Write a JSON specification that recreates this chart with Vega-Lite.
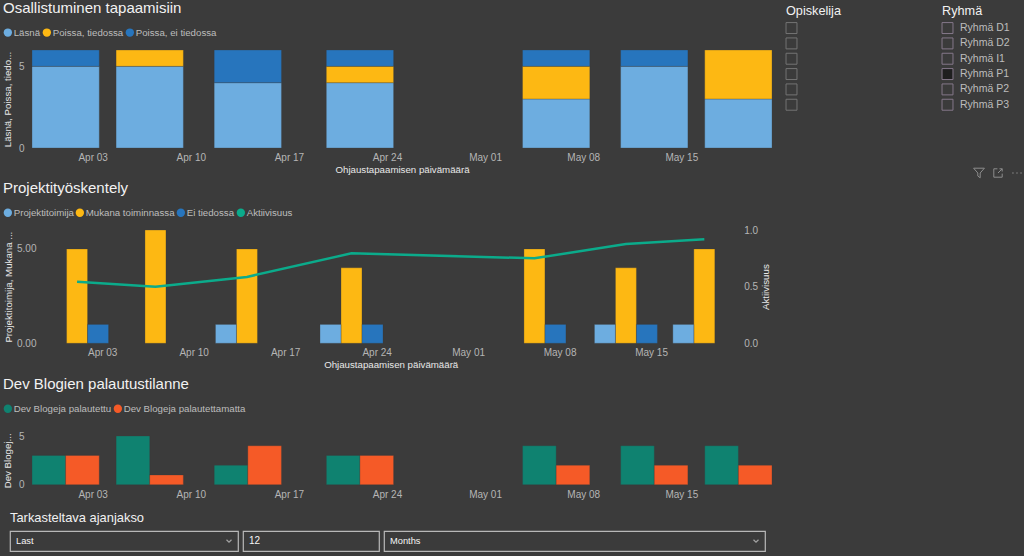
{
"$schema":"https://vega.github.io/schema/vega-lite/v6.json",
"background":"#3b3b3b",
"padding":{"left":2,"top":1,"right":1,"bottom":6},
"config":{"view":{"stroke":null},"font":"Liberation Sans","axis":{"labelFont":"Liberation Sans","titleFont":"Liberation Sans","ticks":false,"domain":false,"grid":false,"labelColor":"#b5b5b5","labelFontSize":10,"titleColor":"#e8e8e8","titleFontSize":9.7,"titleFontWeight":"normal","labelPadding":8},"legend":{"labelFont":"Liberation Sans"},"title":{"font":"Liberation Sans","fontWeight":"normal","color":"#f2f2f2","fontSize":15,"anchor":"start","frame":"group"}},
"datasets":{
"osallistuminen":[
{"pvm":"2022-04-01T00:00:00Z","sarja":"Läsnä","arvo":5,"jarj":1},{"pvm":"2022-04-01T00:00:00Z","sarja":"Poissa, ei tiedossa","arvo":1,"jarj":3},
{"pvm":"2022-04-07T00:00:00Z","sarja":"Läsnä","arvo":5,"jarj":1},{"pvm":"2022-04-07T00:00:00Z","sarja":"Poissa, tiedossa","arvo":1,"jarj":2},
{"pvm":"2022-04-14T00:00:00Z","sarja":"Läsnä","arvo":4,"jarj":1},{"pvm":"2022-04-14T00:00:00Z","sarja":"Poissa, ei tiedossa","arvo":2,"jarj":3},
{"pvm":"2022-04-22T00:00:00Z","sarja":"Läsnä","arvo":4,"jarj":1},{"pvm":"2022-04-22T00:00:00Z","sarja":"Poissa, tiedossa","arvo":1,"jarj":2},{"pvm":"2022-04-22T00:00:00Z","sarja":"Poissa, ei tiedossa","arvo":1,"jarj":3},
{"pvm":"2022-05-06T00:00:00Z","sarja":"Läsnä","arvo":3,"jarj":1},{"pvm":"2022-05-06T00:00:00Z","sarja":"Poissa, tiedossa","arvo":2,"jarj":2},{"pvm":"2022-05-06T00:00:00Z","sarja":"Poissa, ei tiedossa","arvo":1,"jarj":3},
{"pvm":"2022-05-13T00:00:00Z","sarja":"Läsnä","arvo":5,"jarj":1},{"pvm":"2022-05-13T00:00:00Z","sarja":"Poissa, ei tiedossa","arvo":1,"jarj":3},
{"pvm":"2022-05-19T00:00:00Z","sarja":"Läsnä","arvo":3,"jarj":1},{"pvm":"2022-05-19T00:00:00Z","sarja":"Poissa, tiedossa","arvo":3,"jarj":2}],
"projekti":[
{"pvm":"2022-04-01T00:00:00Z","sarja":"Mukana toiminnassa","arvo":5},{"pvm":"2022-04-01T00:00:00Z","sarja":"Ei tiedossa","arvo":1},{"pvm":"2022-04-01T00:00:00Z","sarja":"Aktiivisuus","arvo":0.544},
{"pvm":"2022-04-07T00:00:00Z","sarja":"Mukana toiminnassa","arvo":6},{"pvm":"2022-04-07T00:00:00Z","sarja":"Aktiivisuus","arvo":0.5},
{"pvm":"2022-04-14T00:00:00Z","sarja":"Projektitoimija","arvo":1},{"pvm":"2022-04-14T00:00:00Z","sarja":"Mukana toiminnassa","arvo":5},{"pvm":"2022-04-14T00:00:00Z","sarja":"Aktiivisuus","arvo":0.586},
{"pvm":"2022-04-22T00:00:00Z","sarja":"Projektitoimija","arvo":1},{"pvm":"2022-04-22T00:00:00Z","sarja":"Mukana toiminnassa","arvo":4},{"pvm":"2022-04-22T00:00:00Z","sarja":"Ei tiedossa","arvo":1},{"pvm":"2022-04-22T00:00:00Z","sarja":"Aktiivisuus","arvo":0.794},
{"pvm":"2022-05-06T00:00:00Z","sarja":"Mukana toiminnassa","arvo":5},{"pvm":"2022-05-06T00:00:00Z","sarja":"Ei tiedossa","arvo":1},{"pvm":"2022-05-06T00:00:00Z","sarja":"Aktiivisuus","arvo":0.75},
{"pvm":"2022-05-13T00:00:00Z","sarja":"Projektitoimija","arvo":1},{"pvm":"2022-05-13T00:00:00Z","sarja":"Mukana toiminnassa","arvo":4},{"pvm":"2022-05-13T00:00:00Z","sarja":"Ei tiedossa","arvo":1},{"pvm":"2022-05-13T00:00:00Z","sarja":"Aktiivisuus","arvo":0.876},
{"pvm":"2022-05-19T00:00:00Z","sarja":"Projektitoimija","arvo":1},{"pvm":"2022-05-19T00:00:00Z","sarja":"Mukana toiminnassa","arvo":5},{"pvm":"2022-05-19T00:00:00Z","sarja":"Aktiivisuus","arvo":0.918}],
"blogit":[
{"pvm":"2022-04-01T00:00:00Z","sarja":"Dev Blogeja palautettu","arvo":3},{"pvm":"2022-04-01T00:00:00Z","sarja":"Dev Blogeja palautettamatta","arvo":3},
{"pvm":"2022-04-07T00:00:00Z","sarja":"Dev Blogeja palautettu","arvo":5},{"pvm":"2022-04-07T00:00:00Z","sarja":"Dev Blogeja palautettamatta","arvo":1},
{"pvm":"2022-04-14T00:00:00Z","sarja":"Dev Blogeja palautettu","arvo":2},{"pvm":"2022-04-14T00:00:00Z","sarja":"Dev Blogeja palautettamatta","arvo":4},
{"pvm":"2022-04-22T00:00:00Z","sarja":"Dev Blogeja palautettu","arvo":3},{"pvm":"2022-04-22T00:00:00Z","sarja":"Dev Blogeja palautettamatta","arvo":3},
{"pvm":"2022-05-06T00:00:00Z","sarja":"Dev Blogeja palautettu","arvo":4},{"pvm":"2022-05-06T00:00:00Z","sarja":"Dev Blogeja palautettamatta","arvo":2},
{"pvm":"2022-05-13T00:00:00Z","sarja":"Dev Blogeja palautettu","arvo":4},{"pvm":"2022-05-13T00:00:00Z","sarja":"Dev Blogeja palautettamatta","arvo":2},
{"pvm":"2022-05-19T00:00:00Z","sarja":"Dev Blogeja palautettu","arvo":4},{"pvm":"2022-05-19T00:00:00Z","sarja":"Dev Blogeja palautettamatta","arvo":2}]
},
"spacing":11,
"resolve":{"scale":{"color":"independent","x":"independent","y":"independent"}},
"hconcat":[
{"bounds":"flush","spacing":0,"resolve":{"scale":{"color":"independent","x":"independent","y":"independent"}},"vconcat":[
{"title":{"text":"Osallistuminen tapaamisiin","dx":-7,"offset":11.5},
 "width":762,"height":98,"data":{"name":"osallistuminen"},
 "layer":[
 {"mark":{"type":"rule","stroke":"#6e6e6e","strokeDash":[1,5]},"encoding":{"y":{"datum":0,"type":"quantitative","scale":{"domain":[0,6]}},"x":{"datum":"2022-03-29T14:24:00Z","type":"temporal","scale":{"type":"utc","domain":["2022-03-29T14:24:00Z","2022-05-21T09:36:00Z"],"range":[22,762],"padding":0}},"x2":{"datum":"2022-05-21T09:36:00Z"}}},
 {"mark":{"type":"rule","stroke":"#6e6e6e","strokeDash":[1,5]},"encoding":{"y":{"datum":5,"type":"quantitative"},"x":{"datum":"2022-03-29T14:24:00Z","type":"temporal"},"x2":{"datum":"2022-05-21T09:36:00Z"}}},
 {"mark":{"type":"bar","width":67.3,"stroke":"#3b3b3b","strokeOpacity":0.3,"strokeWidth":1},
  "encoding":{
  "x":{"field":"pvm","type":"temporal","axis":{"title":"Ohjaustapaamisen päivämäärä","format":"%b %d","values":["2022-04-03T00:00:00Z","2022-04-10T00:00:00Z","2022-04-17T00:00:00Z","2022-04-24T00:00:00Z","2022-05-01T00:00:00Z","2022-05-08T00:00:00Z","2022-05-15T00:00:00Z"],"labelPadding":4,"titlePadding":2,"labelOffset":-1}},
  "y":{"field":"arvo","type":"quantitative","stack":"zero","axis":{"title":"Läsnä, Poissa, tiedo...","values":[0,5],"offset":-22,"titlePadding":6}},
  "order":{"field":"jarj","type":"ordinal"},
  "color":{"field":"sarja","type":"nominal","scale":{"domain":["Läsnä","Poissa, tiedossa","Poissa, ei tiedossa"],"range":["#6dade0","#fdb813","#2775bd"]},"legend":{"orient":"none","legendX":-7,"legendY":-22.5,"direction":"horizontal","title":null,"symbolType":"circle","symbolSize":70,"symbolStrokeWidth":0,"labelFontSize":9.7,"labelColor":"#bdbdbd","labelOffset":1,"columnPadding":1}}
 }}]},
{"data":{"values":[]},"mark":"point","width":1,"height":82},
{"title":{"text":"Projektityöskentely","dx":-7,"offset":11.3},
 "width":762,"height":113.3,"data":{"name":"projekti"},
 "resolve":{"scale":{"y":"independent"}},
 "layer":[
 {"mark":{"type":"rule","stroke":"#6e6e6e","strokeDash":[1,5]},"encoding":{"y":{"datum":0,"type":"quantitative","scale":{"domain":[0,6]},"axis":null},"x":{"datum":"2022-03-29T14:24:00Z","type":"temporal","scale":{"type":"utc","domain":["2022-03-29T14:24:00Z","2022-05-21T09:36:00Z"],"range":[35.7,725.7],"padding":0}},"x2":{"datum":"2022-05-21T09:36:00Z"}}},
 {"mark":{"type":"rule","stroke":"#6e6e6e","strokeDash":[1,5]},"encoding":{"y":{"datum":5,"type":"quantitative","scale":{"domain":[0,6]},"axis":null},"x":{"datum":"2022-03-29T14:24:00Z","type":"temporal"},"x2":{"datum":"2022-05-21T09:36:00Z"}}},
 {"transform":[{"filter":{"field":"sarja","equal":"Mukana toiminnassa"}}],
  "mark":{"type":"bar","width":21,"stroke":"#3b3b3b","strokeOpacity":0.3,"strokeWidth":1},
  "encoding":{
  "x":{"field":"pvm","type":"temporal","axis":{"title":"Ohjaustapaamisen päivämäärä","format":"%b %d","values":["2022-04-03T00:00:00Z","2022-04-10T00:00:00Z","2022-04-17T00:00:00Z","2022-04-24T00:00:00Z","2022-05-01T00:00:00Z","2022-05-08T00:00:00Z","2022-05-15T00:00:00Z"],"labelPadding":4.4,"titlePadding":2,"labelOffset":-1}},
  "y":{"field":"arvo","type":"quantitative","scale":{"domain":[0,6]},"axis":{"title":"Projektitoimija, Mukana ...","values":[0,5],"format":".2f","offset":-35.7,"labelPadding":9.7,"titlePadding":3.3}},
  "color":{"field":"sarja","type":"nominal","scale":{"domain":["Projektitoimija","Mukana toiminnassa","Ei tiedossa","Aktiivisuus"],"range":["#6dade0","#fdb813","#2775bd","#0bab8b"]},"legend":{"orient":"none","legendX":-7,"legendY":-22.3,"direction":"horizontal","title":null,"symbolType":"circle","symbolSize":70,"symbolStrokeWidth":0,"labelFontSize":9.7,"labelColor":"#bdbdbd","labelOffset":1,"columnPadding":1}}
 }},
 {"transform":[{"filter":{"field":"sarja","equal":"Projektitoimija"}}],
  "mark":{"type":"bar","width":21,"xOffset":-21,"stroke":"#3b3b3b","strokeOpacity":0.3,"strokeWidth":1},
  "encoding":{"x":{"field":"pvm","type":"temporal"},"y":{"field":"arvo","type":"quantitative","scale":{"domain":[0,6]},"axis":null},"color":{"field":"sarja","type":"nominal"}}},
 {"transform":[{"filter":{"field":"sarja","equal":"Ei tiedossa"}}],
  "mark":{"type":"bar","width":21,"xOffset":21,"stroke":"#3b3b3b","strokeOpacity":0.3,"strokeWidth":1},
  "encoding":{"x":{"field":"pvm","type":"temporal"},"y":{"field":"arvo","type":"quantitative","scale":{"domain":[0,6]},"axis":null},"color":{"field":"sarja","type":"nominal"}}},
 {"transform":[{"filter":{"field":"sarja","equal":"Aktiivisuus"}}],
  "mark":{"type":"line","stroke":"#0bab8b","strokeWidth":2.5},
  "encoding":{"x":{"field":"pvm","type":"temporal"},"y":{"field":"arvo","type":"quantitative","scale":{"domain":[0,1]},"axis":{"orient":"right","title":"Aktiivisuus","titleAngle":270,"values":[0,0.5,1],"format":".1f","offset":-36.3,"titlePadding":13}}}}
 ]},
{"data":{"values":[]},"mark":"point","width":1,"height":91.7},
{"title":{"text":"Dev Blogien palautustilanne","dx":-7,"offset":11.7},
 "width":762,"height":48.7,"data":{"name":"blogit"},
 "layer":[
 {"mark":{"type":"rule","stroke":"#6e6e6e","strokeDash":[1,5]},"encoding":{"y":{"datum":0,"type":"quantitative","scale":{"domain":[0,5]}},"x":{"datum":"2022-03-29T14:24:00Z","type":"temporal","scale":{"type":"utc","domain":["2022-03-29T14:24:00Z","2022-05-21T09:36:00Z"],"range":[22,762],"padding":0}},"x2":{"datum":"2022-05-21T09:36:00Z"}}},
 {"mark":{"type":"rule","stroke":"#6e6e6e","strokeDash":[1,5]},"encoding":{"y":{"datum":5,"type":"quantitative"},"x":{"datum":"2022-03-29T14:24:00Z","type":"temporal"},"x2":{"datum":"2022-05-21T09:36:00Z"}}},
 {"transform":[{"filter":{"field":"sarja","equal":"Dev Blogeja palautettu"}}],
  "mark":{"type":"bar","width":33.65,"xOffset":-16.8,"stroke":"#3b3b3b","strokeOpacity":0.3,"strokeWidth":1},
  "encoding":{
  "x":{"field":"pvm","type":"temporal","axis":{"title":null,"format":"%b %d","values":["2022-04-03T00:00:00Z","2022-04-10T00:00:00Z","2022-04-17T00:00:00Z","2022-04-24T00:00:00Z","2022-05-01T00:00:00Z","2022-05-08T00:00:00Z","2022-05-15T00:00:00Z"],"labelPadding":4.3,"labelOffset":-1}},
  "y":{"field":"arvo","type":"quantitative","axis":{"title":"Dev Blogej...","values":[0,5],"offset":-22,"titlePadding":6}},
  "color":{"field":"sarja","type":"nominal","scale":{"domain":["Dev Blogeja palautettu","Dev Blogeja palautettamatta"],"range":["#0f8270","#f55a27"]},"legend":{"orient":"none","legendX":-7,"legendY":-32.3,"direction":"horizontal","title":null,"symbolType":"circle","symbolSize":70,"symbolStrokeWidth":0,"labelFontSize":9.7,"labelColor":"#bdbdbd","labelOffset":1,"columnPadding":1}}
 }},
 {"transform":[{"filter":{"field":"sarja","equal":"Dev Blogeja palautettamatta"}}],
  "mark":{"type":"bar","width":33.65,"xOffset":16.8,"stroke":"#3b3b3b","strokeOpacity":0.3,"strokeWidth":1},
  "encoding":{"x":{"field":"pvm","type":"temporal"},"y":{"field":"arvo","type":"quantitative"},"color":{"field":"sarja","type":"nominal"}}}
 ]},
{"data":{"values":[]},"mark":"point","width":1,"height":46},
{"bounds":"flush","spacing":5,"hconcat":[
 {"title":{"text":"Tarkasteltava ajanjakso","fontSize":12.9,"offset":6},
  "width":228,"height":20,"view":{"stroke":"#b8b8b8","strokeWidth":1.2},
  "data":{"values":[{"valinta":"Last"}]},
  "layer":[
  {"mark":{"type":"text","align":"left","dx":6,"fontSize":9.3,"color":"#f5f5f5"},"encoding":{"x":{"datum":0,"type":"quantitative","scale":{"domain":[0,1]},"axis":null},"text":{"field":"valinta"}}},
  {"mark":{"type":"point","filled":false,"stroke":"#d0d0d0","strokeWidth":1.2,"xOffset":-9,"shape":"M-1,-0.5L0,0.5L1,-0.5","size":25},"encoding":{"x":{"datum":1,"type":"quantitative","axis":null}}}]},
 {"width":136,"height":20,"view":{"stroke":"#b8b8b8","strokeWidth":1.2},
  "data":{"values":[{"valinta":"12"}]},
  "mark":{"type":"text","align":"left","dx":6,"fontSize":10,"color":"#f5f5f5"},"encoding":{"x":{"datum":0,"type":"quantitative","scale":{"domain":[0,1]},"axis":null},"text":{"field":"valinta"}}},
 {"width":381,"height":20,"view":{"stroke":"#b8b8b8","strokeWidth":1.2},
  "data":{"values":[{"valinta":"Months"}]},
  "layer":[
  {"mark":{"type":"text","align":"left","dx":6,"fontSize":9.3,"color":"#f5f5f5"},"encoding":{"x":{"datum":0,"type":"quantitative","scale":{"domain":[0,1]},"axis":null},"text":{"field":"valinta"}}},
  {"mark":{"type":"point","filled":false,"stroke":"#d0d0d0","strokeWidth":1.2,"xOffset":-9,"shape":"M-1,-0.5L0,0.5L1,-0.5","size":25},"encoding":{"x":{"datum":1,"type":"quantitative","axis":null}}}]}
]}
]},
{"title":{"text":"Opiskelija","fontSize":12.7,"offset":3},
 "width":143,"height":92,
 "data":{"values":[{"rivi":"1"},{"rivi":"2"},{"rivi":"3"},{"rivi":"4"},{"rivi":"5"},{"rivi":"6"}]},
 "mark":{"type":"point","shape":"square","size":120,"filled":false,"stroke":"#8c8c8c","strokeWidth":1,"yOffset":-29.6},
 "encoding":{"y":{"field":"rivi","type":"ordinal","axis":null},"x":{"datum":0,"type":"quantitative","scale":{"domain":[0,1],"range":[5.5,143]},"axis":null}}},
{"bounds":"flush","spacing":24,"vconcat":[
 {"title":{"text":"Ryhmä","fontSize":12.7,"offset":3},
  "width":81,"height":92,
  "data":{"values":[{"ryhma":"Ryhmä D1","valittu":"ei"},{"ryhma":"Ryhmä D2","valittu":"ei"},{"ryhma":"Ryhmä I1","valittu":"ei"},{"ryhma":"Ryhmä P1","valittu":"kyllä"},{"ryhma":"Ryhmä P2","valittu":"ei"},{"ryhma":"Ryhmä P3","valittu":"ei"}]},
  "encoding":{"y":{"field":"ryhma","type":"ordinal","axis":null},"x":{"datum":0,"type":"quantitative","scale":{"domain":[0,1],"range":[5.5,81]},"axis":null}},
  "layer":[
  {"mark":{"type":"point","shape":"square","size":120,"stroke":"#85788a","strokeWidth":1,"opacity":1,"yOffset":-29.6},"encoding":{"fill":{"field":"valittu","type":"nominal","scale":{"domain":["ei","kyllä"],"range":["#3b3b3b","#1f1f1f"]},"legend":null}}},
  {"mark":{"type":"text","align":"left","dx":12.5,"yOffset":-29.6,"fontSize":10.5,"color":"#bdbdbd"},"encoding":{"text":{"field":"ryhma"}}}]},
 {"width":81,"height":14,
  "data":{"values":[{"kuvake":"suodatin"},{"kuvake":"laajenna"},{"kuvake":"lisää"}]},
  "mark":{"type":"point","filled":false,"stroke":"#b0b0b0","strokeWidth":1,"size":144},
  "encoding":{"x":{"field":"kuvake","type":"nominal","sort":null,"axis":null,"scale":{"type":"point","range":[37,75],"padding":0}},
   "shape":{"field":"kuvake","type":"nominal","legend":null,"scale":{"domain":["suodatin","laajenna","lisää"],"range":["M-0.9,-0.8L0.9,-0.8L0.2,0L0.2,0.8L-0.2,0.5L-0.2,0Z","M-0.1,-0.7L-0.7,-0.7L-0.7,0.7L0.7,0.7L0.7,0.1M0,0L0.7,-0.7M0.25,-0.7L0.7,-0.7L0.7,-0.25","M-0.8,0L-0.55,0M-0.12,0L0.12,0M0.55,0L0.8,0"]}}}}
]}
]
}
